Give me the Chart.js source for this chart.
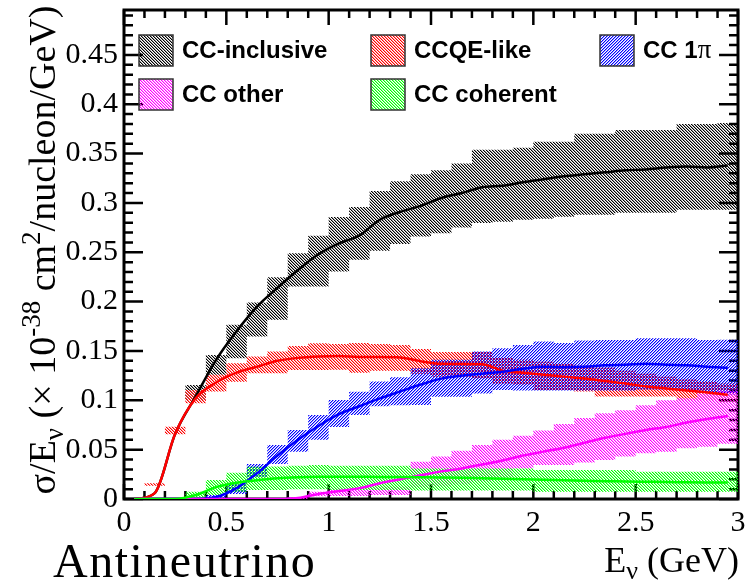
<!DOCTYPE html>
<html>
<head>
<meta charset="utf-8">
<script src="https://cdn.jsdelivr.net/npm/chart.js@4.4.1/dist/chart.umd.min.js"></script>
<style>
	body { margin: 0; background: #fff; }
	#wrap { width: 753px; height: 582px; position: relative; }
</style>
</head>
<body>
<div id="wrap"><canvas id="xsecChart"></canvas></div>
<script>
// histogram bin edges (GeV) for the error bands, bin centres for the smooth curves
const binEdges = [0, 0.1, 0.2, 0.3, 0.4, 0.5, 0.6, 0.7, 0.8, 0.9, 1.0, 1.1, 1.2, 1.3, 1.4, 1.5, 1.6, 1.7, 1.8, 1.9, 2.0, 2.1, 2.2, 2.3, 2.4, 2.5, 2.6, 2.7, 2.8, 2.9, 3.0]
const binCenters = [0.05, 0.15, 0.25, 0.35, 0.45, 0.55, 0.65, 0.75, 0.85, 0.95, 1.05, 1.15, 1.25, 1.35, 1.45, 1.55, 1.65, 1.75, 1.85, 1.95, 2.05, 2.15, 2.25, 2.35, 2.45, 2.55, 2.65, 2.75, 2.85, 2.95]

const seriesNames = ['CC-inclusive', 'CCQE-like', 'CC 1π', 'CC other', 'CC coherent']
const seriesColors = ['#000000', '#ff0000', '#0000ff', '#ff00ff', '#00ff00']
const hatchDirs = ['\\', '\\', '/', '\\', '\\']

// sigma/E (1e-38 cm^2/nucleon/GeV), central curves
const incCurve = [0, 0.006, 0.066, 0.104, 0.141, 0.170, 0.195, 0.214, 0.232, 0.248, 0.259, 0.267, 0.283, 0.291, 0.297, 0.305, 0.310, 0.316, 0.3175, 0.321, 0.324, 0.327, 0.329, 0.331, 0.333, 0.334, 0.336, 0.337, 0.336, 0.338]
const qeCurve = [0, 0.006, 0.066, 0.102, 0.118, 0.128, 0.134, 0.140, 0.143, 0.1445, 0.145, 0.144, 0.144, 0.1435, 0.1395, 0.137, 0.1368, 0.1365, 0.130, 0.128, 0.126, 0.124, 0.122, 0.1195, 0.117, 0.114, 0.112, 0.110, 0.108, 0.1055]
const pi1Curve = [0, 0, 0, 0, 0.002, 0.011, 0.026, 0.044, 0.060, 0.074, 0.086, 0.094, 0.102, 0.109, 0.116, 0.122, 0.125, 0.127, 0.129, 0.132, 0.134, 0.1335, 0.134, 0.1355, 0.136, 0.137, 0.136, 0.1355, 0.134, 0.133]
const othCurve = [0, 0, 0, 0, 0, 0, 0, 0, 0.001, 0.005, 0.008, 0.011, 0.016, 0.020, 0.024, 0.028, 0.031, 0.035, 0.039, 0.044, 0.048, 0.052, 0.057, 0.062, 0.066, 0.070, 0.073, 0.0775, 0.081, 0.084]
const cohCurve = [0, 0, 0, 0.004, 0.012, 0.0165, 0.019, 0.021, 0.022, 0.0225, 0.0226, 0.0225, 0.0224, 0.0222, 0.022, 0.0218, 0.0215, 0.021, 0.0205, 0.020, 0.0195, 0.019, 0.0185, 0.018, 0.0178, 0.0175, 0.0172, 0.017, 0.0168, 0.0166]

// error band limits per bin
const incLo = [0, 0, 0, 0.100, 0.1258, 0.1426, 0.1647, 0.1816, 0.2154, 0.2154, 0.2305, 0.2424, 0.2515, 0.2585, 0.2660, 0.2694, 0.2750, 0.2796, 0.2810, 0.2830, 0.2840, 0.2860, 0.2880, 0.2880, 0.2900, 0.2900, 0.2900, 0.2930, 0.2930, 0.2930]
const incHi = [0, 0, 0, 0.1156, 0.1460, 0.1765, 0.1991, 0.2248, 0.2491, 0.2667, 0.2857, 0.2958, 0.3120, 0.3220, 0.3290, 0.3330, 0.3400, 0.3540, 0.3540, 0.3560, 0.3620, 0.3620, 0.3700, 0.3700, 0.3740, 0.3740, 0.3740, 0.3800, 0.3800, 0.3810]
const qeLo = [0, 0.0135, 0.0656, 0.0970, 0.1089, 0.1189, 0.1274, 0.1274, 0.1308, 0.1308, 0.1310, 0.1280, 0.1300, 0.1300, 0.1268, 0.1240, 0.1240, 0.1220, 0.1170, 0.1156, 0.1105, 0.1105, 0.1090, 0.1038, 0.1038, 0.1038, 0.1038, 0.1000, 0.1000, 0.0980]
const qeHi = [0, 0.0160, 0.0733, 0.1105, 0.1258, 0.1376, 0.1444, 0.1494, 0.1550, 0.1578, 0.1570, 0.1580, 0.1570, 0.1560, 0.1520, 0.1490, 0.1490, 0.1490, 0.1430, 0.1410, 0.1390, 0.1370, 0.1350, 0.1330, 0.1300, 0.1270, 0.1240, 0.1210, 0.1190, 0.1170]
const pi1Lo = [0, 0, 0, 0, 0, 0.005, 0.0226, 0.0355, 0.048, 0.060, 0.073, 0.085, 0.094, 0.095, 0.0953, 0.1037, 0.1037, 0.107, 0.1105, 0.110, 0.110, 0.110, 0.110, 0.110, 0.110, 0.111, 0.111, 0.110, 0.108, 0.106]
const pi1Hi = [0, 0, 0, 0, 0.004, 0.015, 0.0355, 0.0548, 0.070, 0.0852, 0.1004, 0.1088, 0.119, 0.1234, 0.1325, 0.141, 0.141, 0.1494, 0.1528, 0.156, 0.1596, 0.158, 0.1606, 0.161, 0.161, 0.163, 0.163, 0.163, 0.161, 0.1613]
const othLo = [0, 0, 0, 0, 0, 0, 0, 0, 0, 0.0027, 0.003, 0.003, 0.004, 0.004, 0.012, 0.013, 0.015, 0.018, 0.022, 0.031, 0.0345, 0.0345, 0.037, 0.0396, 0.043, 0.0463, 0.048, 0.0514, 0.053, 0.056]
const othHi = [0, 0, 0, 0, 0, 0, 0, 0, 0.002, 0.0074, 0.011, 0.012, 0.0125, 0.0125, 0.0378, 0.043, 0.049, 0.0548, 0.060, 0.064, 0.0693, 0.076, 0.082, 0.087, 0.090, 0.095, 0.100, 0.102, 0.107, 0.110]
const cohLo = [0, 0, 0, 0.0007, 0.004, 0.0074, 0.009, 0.009, 0.0098, 0.0098, 0.0091, 0.0091, 0.0091, 0.0091, 0.0085, 0.0085, 0.0085, 0.0085, 0.0085, 0.0085, 0.0074, 0.0074, 0.0074, 0.0074, 0.0074, 0.0074, 0.0074, 0.0074, 0.0074, 0.0074]
const cohHi = [0, 0, 0, 0.0074, 0.0193, 0.0267, 0.0328, 0.033, 0.0338, 0.0345, 0.0338, 0.0338, 0.0338, 0.0338, 0.031, 0.031, 0.031, 0.031, 0.031, 0.031, 0.0294, 0.0294, 0.0294, 0.0294, 0.0294, 0.0277, 0.0277, 0.0277, 0.0277, 0.0277]

const xTickValues = [0, 0.5, 1, 1.5, 2, 2.5, 3]
const xTickLabels = ['0', '0.5', '1', '1.5', '2', '2.5', '3']
const yTickValues = [0, 0.05, 0.1, 0.15, 0.2, 0.25, 0.3, 0.35, 0.4, 0.45]
const yTickLabels = ['0', '0.05', '0.1', '0.15', '0.2', '0.25', '0.3', '0.35', '0.4', '0.45']

const curves = [incCurve, qeCurve, pi1Curve, othCurve, cohCurve]
const bandsLo = [incLo, qeLo, pi1Lo, othLo, cohLo]
const bandsHi = [incHi, qeHi, pi1Hi, othHi, cohHi]

const SERIF = "'Liberation Serif', 'Times New Roman', serif"
const SANS = "'Liberation Sans', Arial, sans-serif"

var canvas = document.getElementById('xsecChart')
var ctx = canvas.getContext('2d')

// fine diagonal hatch like the ROOT fill styles (3px period)
function hatch(color, dir) {
	const tile = document.createElement('canvas')
	tile.width = 3
	tile.height = 3
	const t = tile.getContext('2d')
	t.fillStyle = color
	for (let y = 0; y < 3; y++) {
		for (let x = 0; x < 3; x++) {
			const k = dir === '\\' ? (x - y + 6) % 3 : (x + y) % 3
			if (k === 2) continue
			t.globalAlpha = k === 0 ? 1 : 0.4
			t.fillRect(x, y, 1, 1)
		}
	}
	return ctx.createPattern(tile, 'repeat')
}
const patterns = seriesColors.map((c, i) => hatch(c, hatchDirs[i]))

// one point per bin left edge, plus the closing right edge
function stepPoints(values) {
	const pts = values.map((v, i) => ({ x: binEdges[i], y: v }))
	pts.push({ x: binEdges[binEdges.length - 1], y: values[values.length - 1] })
	return pts
}

const datasets = []
// bands: lower edge (invisible) followed by upper edge filled down to it
seriesNames.forEach((name, i) => {
	const loIndex = datasets.length
	datasets.push({
		label: name + ' lo',
		data: stepPoints(bandsLo[i]),
		stepped: 'before',
		borderWidth: 0,
		pointRadius: 0,
		fill: false,
		order: 20 - i,
	})
	datasets.push({
		label: name + ' band',
		data: stepPoints(bandsHi[i]),
		stepped: 'before',
		borderWidth: 0,
		borderColor: 'rgba(0,0,0,0)',
		pointRadius: 0,
		backgroundColor: patterns[i],
		fill: { target: loIndex },
		order: 20 - i,
	})
})
// smooth central curves on top
seriesNames.forEach((name, i) => {
	datasets.push({
		label: name,
		data: curves[i].map((v, k) => ({ x: binCenters[k], y: v })),
		borderColor: seriesColors[i],
		borderWidth: 2.5,
		pointRadius: 0,
		cubicInterpolationMode: 'monotone',
		fill: false,
		order: 5 - i,
	})
})

function drawRich(c, parts, x, y, align) {
	let total = 0
	parts.forEach((p) => {
		c.font = p.size + 'px ' + SERIF
		p.w = c.measureText(p.t).width
		total += p.w
	})
	let cx = align === 'right' ? x - total : align === 'center' ? x - total / 2 : x
	c.textAlign = 'left'
	c.textBaseline = 'alphabetic'
	parts.forEach((p) => {
		c.font = p.size + 'px ' + SERIF
		c.fillText(p.t, cx, y + (p.dy || 0))
		cx += p.w
	})
}

const frameAndTicks = {
	id: 'frameAndTicks',
	beforeDatasetsDraw(chart) {
		const c = chart.ctx
		const xs = chart.scales.x
		const ys = chart.scales.y
		const { left, right, top, bottom } = chart.chartArea
		c.save()
		c.strokeStyle = '#000'
		c.lineWidth = 2.5
		c.beginPath()
		for (let i = 0; i <= 30; i++) {
			const px = xs.getPixelForValue(i / 10)
			const len = i % 5 === 0 ? 15 : 8
			c.moveTo(px, bottom)
			c.lineTo(px, bottom - len)
			c.moveTo(px, top)
			c.lineTo(px, top + len)
		}
		for (let i = 0; i / 100 <= ys.max; i++) {
			const py = ys.getPixelForValue(i / 100)
			const len = i % 5 === 0 ? 19 : 9
			c.moveTo(left, py)
			c.lineTo(left + len, py)
			c.moveTo(right, py)
			c.lineTo(right - len, py)
		}
		c.stroke()
		c.lineWidth = 3
		c.strokeRect(left, top, right - left, bottom - top)
		c.restore()
	},
	afterDraw(chart) {
		const c = chart.ctx
		const xs = chart.scales.x
		const ys = chart.scales.y
		const { left, right, bottom } = chart.chartArea
		c.save()
		c.fillStyle = '#000'
		c.font = '30px ' + SERIF
		c.textAlign = 'right'
		c.textBaseline = 'middle'
		yTickValues.forEach((v, i) => c.fillText(yTickLabels[i], left - 6, ys.getPixelForValue(v)))
		c.textAlign = 'center'
		c.textBaseline = 'alphabetic'
		xTickValues.forEach((v, i) => c.fillText(xTickLabels[i], xs.getPixelForValue(v), bottom + 32))

		// axis titles
		drawRich(c, [{ t: 'E', size: 36 }, { t: 'ν', size: 26, dy: 7 }, { t: ' (GeV)', size: 36 }], right + 1, 572, 'right')
		c.save()
		c.translate(55, 250)
		c.rotate(-Math.PI / 2)
		drawRich(c, [
			{ t: 'σ/E', size: 38 },
			{ t: 'ν', size: 27, dy: 8 },
			{ t: ' (× 10', size: 38 },
			{ t: '-38', size: 27, dy: -15 },
			{ t: ' cm', size: 38 },
			{ t: '2', size: 27, dy: -15 },
			{ t: '/nucleon/GeV)', size: 38 },
		], 0, 0, 'center')
		c.restore()

		c.font = '48px ' + SERIF
		c.textAlign = 'left'
		if ('letterSpacing' in c) c.letterSpacing = '1.5px'
		c.fillText('Antineutrino', 53, 577)
		if ('letterSpacing' in c) c.letterSpacing = '0px'

		// legend, three columns by two rows
		const colX = [139, 371, 600]
		seriesNames.forEach((name, i) => {
			const bx = colX[i % 3]
			const by = i < 3 ? 35 : 79
			c.fillStyle = patterns[i]
			c.fillRect(bx, by, 34, 31)
			c.strokeStyle = '#333'
			c.lineWidth = 1.5
			c.strokeRect(bx, by, 34, 31)
			c.fillStyle = '#000'
			c.textBaseline = 'alphabetic'
			const tx = bx + 43
			if (name.endsWith('π')) {
				const head = name.slice(0, -1)
				c.font = 'bold 24px ' + SANS
				c.fillText(head, tx, by + 23)
				const w = c.measureText(head).width
				c.font = '27px ' + SERIF
				c.fillText('π', tx + w, by + 23)
			} else {
				c.font = 'bold 24px ' + SANS
				c.fillText(name, tx, by + 23)
			}
		})
		c.restore()
	},
}

var xsecChart = new Chart(ctx, {
	type: 'line',
	data: { datasets: datasets },
	options: {
		responsive: true,
		maintainAspectRatio: false,
		devicePixelRatio: 1,
		animation: false,
		layout: { padding: { left: 124, top: 10, right: 15, bottom: 83 } },
		scales: {
			x: { type: 'linear', min: 0, max: 3, display: false },
			y: { type: 'linear', min: 0, max: 0.4955, display: false },
		},
		plugins: {
			legend: { display: false },
			tooltip: { enabled: false },
		},
	},
	plugins: [frameAndTicks],
})
</script>
</body>
</html>
